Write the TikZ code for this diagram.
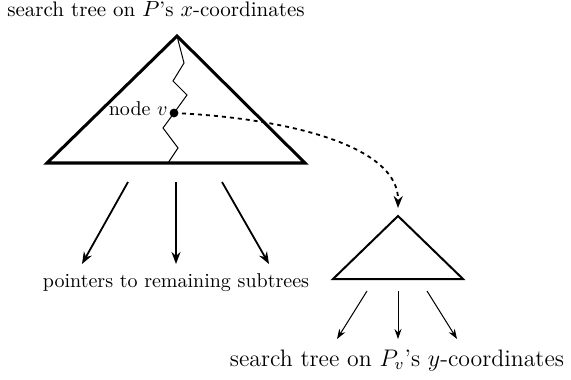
\documentclass[tikz,border=0pt]{standalone}
\usetikzlibrary{arrows.meta}
\begin{document}
\begin{tikzpicture}[x=0.5pt,y=-0.5pt,
  bigtri/.style={line width=1.5pt,line join=miter},
  smalltri/.style={line width=1pt},
  ptr/.style={line width=0.9pt,-{Stealth[length=6pt,width=4.5pt]}},
  sptr/.style={line width=0.5pt,-{Stealth[length=5pt,width=3.5pt]}},
  zig/.style={line width=0.5pt},
  lbl/.style={inner sep=0pt,font=\fontsize{10.5}{12}\selectfont}]
\useasboundingbox (0,0) rectangle (571,379);
% big triangle
\coordinate (A) at (177,36);
\coordinate (L) at (47,163);
\coordinate (R) at (305,163);
\draw[bigtri] (A) -- (L) -- (R) -- cycle;
% zigzag path
\coordinate (v) at (174,113);
\draw[zig] (A) -- (184,63) -- (173,81) -- (187,95) -- (v) -- (163,128) -- (178,148) -- (168,163);
\fill (v) circle (2.2pt);
\node[lbl,anchor=base east,font=\fontsize{10}{12}\selectfont] (vl) at (168,116) {node $v$};
% small triangle
\coordinate (a) at (398,216);
\coordinate (l) at (333,279);
\coordinate (r) at (463,279);
\draw[smalltri] (a) -- (l) -- (r) -- cycle;
\coordinate (tip) at (398,208);
\draw[line width=0.9pt,dash pattern=on 2pt off 2pt,-{Stealth[length=6pt,width=4.5pt]}] (v) .. controls (285,118) and (399,145) .. (tip);
% big arrows
\coordinate (p1) at (128,182); \coordinate (q1) at (82,264);
\coordinate (p2) at (176,182); \coordinate (q2) at (176,264);
\coordinate (p3) at (222,182); \coordinate (q3) at (269,264);
\draw[ptr] (p1) -- (q1);
\draw[ptr] (p2) -- (q2);
\draw[ptr] (p3) -- (q3);
% small arrows
\coordinate (s1) at (367,291); \coordinate (t1) at (337,339);
\coordinate (s2) at (398,291); \coordinate (t2) at (398,339);
\coordinate (s3) at (427,291); \coordinate (t3) at (457,339);
\draw[sptr] (s1) -- (t1);
\draw[sptr] (s2) -- (t2);
\draw[sptr] (s3) -- (t3);
% labels
\node[lbl,anchor=base west] (title) at (7,17) {search tree on $P$'s $x$-coordinates};
\node[lbl,anchor=base,font=\fontsize{10}{12}\selectfont] (ptrs) at (176,287) {pointers to remaining subtrees};
\node[lbl,anchor=base,font=\fontsize{11.9}{14}\selectfont] (ytree) at (397,366) {search tree on $P_v$'s $y$-coordinates};
\end{tikzpicture}
\end{document}
